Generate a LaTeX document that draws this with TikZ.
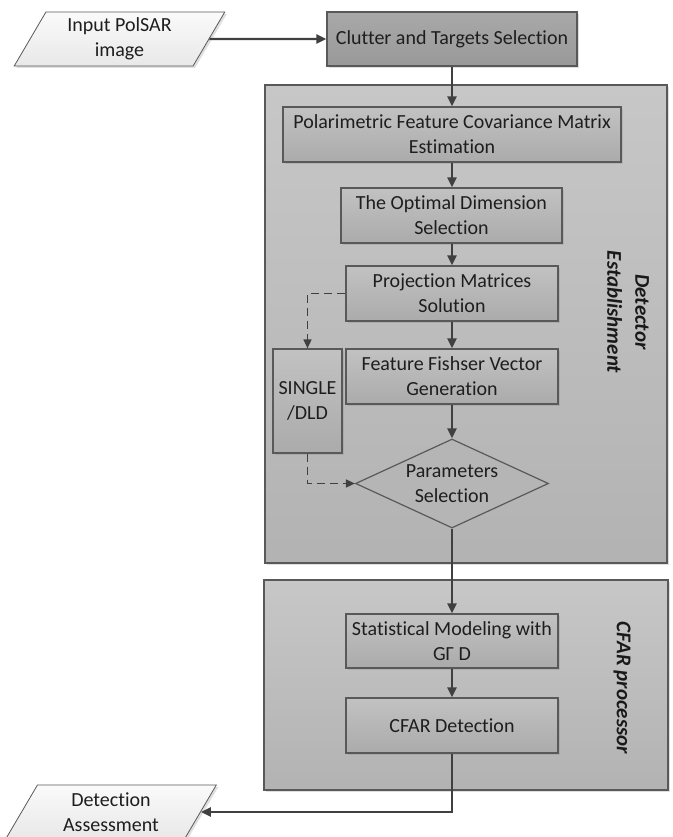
\documentclass[tikz,border=0pt]{standalone}
\usepackage{fontspec}
\setmainfont{Carlito}[Ligatures={CommonOff,ContextualOff}]
\usepackage{xcolor}
\usepackage{tikz}
\usetikzlibrary{shapes,arrows,positioning,calc,shadows,arrows.meta}

\definecolor{linegray}{HTML}{595959}
\definecolor{arrowgray}{HTML}{404040}
\definecolor{textgray}{HTML}{1E1E1E}

\tikzset{
  softshadow/.style={drop shadow={opacity=0.25, shadow xshift=2pt, shadow yshift=-2pt}},
  panel/.style={draw=linegray, line width=1.2pt, top color=black!22, bottom color=black!30, softshadow},
  box/.style={draw=linegray, line width=1.2pt, top color=black!24, bottom color=black!33, align=center, inner sep=2pt, text=textgray, softshadow},
  darkbox/.style={box, top color=black!34, bottom color=black!40},
  io/.style={trapezium, trapezium left angle=62, trapezium right angle=118, trapezium stretches=true, minimum width=211pt, minimum height=54pt, draw=linegray, line width=0.8pt, top color=black!2, bottom color=black!9, align=center, inner sep=0pt, text=textgray, softshadow},
  decision/.style={diamond, aspect=2.17, minimum width=193pt, minimum height=89pt, inner sep=0pt, draw=linegray, line width=1.2pt, fill=black!29, align=center, text=textgray},
  sidelabel/.style={font=\fontsize{21}{28}\selectfont\bfseries\itshape, align=center, text=black!90},
  flow/.style={draw=arrowgray, line width=2.2pt, -{Triangle[length=10pt,width=9pt]}},
  option/.style={draw=arrowgray, line width=1.6pt, dash pattern=on 8pt off 5pt, -{Triangle[length=9pt,width=8pt]}}
}

\begin{document}
\begin{tikzpicture}[x=1pt, y=-1pt, font=\fontsize{20}{25}\selectfont]
    \useasboundingbox (0,0) rectangle (672,837);

    % Panels
    \node[panel, minimum width=402pt, minimum height=478pt] (detpanel) at (466,324) {};
    \node[panel, minimum width=404pt, minimum height=210pt] (cfarpanel) at (466,685) {};
    \node[sidelabel, rotate=-90] (detlbl) at (628,312) {Detector\\Establishment};
    \node[sidelabel, rotate=-90] (cfarlbl) at (622,688) {CFAR processor};

    % Input / output
    \node[io] (input) at (119.5,39) {Input PolSAR\\image};
    \node[io] (output) at (111,812) {Detection\\Assessment};

    % Selection
    \node[darkbox, minimum width=250pt, minimum height=54pt] (clutter) at (452,39) {Clutter and Targets Selection};

    % Detector establishment
    \node[box, minimum width=338pt, minimum height=55pt] (covar) at (452,134.5) {Polarimetric Feature Covariance Matrix\\Estimation};
    \node[box, minimum width=221pt, minimum height=55pt] (dim) at (451.5,215.5) {The Optimal Dimension\\Selection};
    \node[box, minimum width=212pt, minimum height=55pt] (proj) at (452,293.5) {Projection Matrices\\Solution};
    \node[box, minimum width=212pt, minimum height=55pt] (fisher) at (452,376.5) {Feature Fishser Vector\\Generation};
    \node[box, minimum width=69pt, minimum height=104pt] (single) at (307.5,401) {SINGLE\\/DLD};
    \node[decision] (param) at (452,483.5) {Parameters\\Selection};

    % CFAR processor
    \node[box, minimum width=212pt, minimum height=54pt] (model) at (452,641) {Statistical Modeling with\\GΓ D};
    \node[box, minimum width=212pt, minimum height=55pt] (cfar) at (452,725.5) {CFAR Detection};

    % Connectors
    \draw[flow] (input.east) -- (clutter.west);
    \draw[flow] (clutter.south) -- (covar.north);
    \draw[flow] (covar.south) -- (covar.south |- dim.north);
    \draw[flow] (dim.south -| proj.north) -- (proj.north);
    \draw[flow] (proj) -- (fisher);
    \draw[flow] (fisher) -- (param);
    \draw[option] (proj.west) -| (single.north);
    \draw[option] (single.south) |- (param.west);
    \draw[flow] (param.south) -- (model.north);
    \draw[flow] (model) -- (cfar);
    \draw[flow] (cfar.south) |- (output.east);

\end{tikzpicture}
\end{document}
